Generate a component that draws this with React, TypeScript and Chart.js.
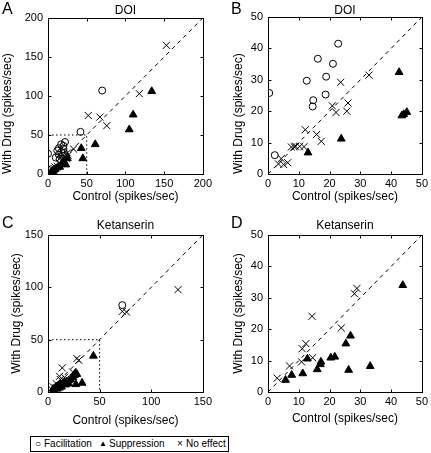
import React, { useEffect, useRef } from "react";
import { Chart, registerables } from "chart.js";

Chart.register(...registerables);

type Pt = [number, number];

// ---------- Panel A: DOI (0-200) ----------
const A_FACILITATION: Pt[] = [
  [70, 107], [42, 54], [0, 26], [22, 41], [17, 38], [20, 36], [14, 33], [20, 32],
  [12, 30], [17, 28], [21, 27], [14, 25], [19, 23], [10, 21], [15, 19], [4, 6], [7, 4],
];
const A_SUPPRESSION: Pt[] = [
  [134, 106], [110, 76], [105, 57], [61, 38], [43, 33], [45, 20], [23, 12], [18, 13],
  [15, 9], [12, 8], [9, 6], [7, 4], [5, 3], [3, 1], [20, 16], [25, 20],
];
const A_NO_EFFECT: Pt[] = [
  [153, 165], [118, 103], [52, 75], [67, 73], [76, 62], [33, 32], [26, 24], [24, 20],
  [22, 22], [20, 18], [18, 16], [15, 14], [12, 10], [9, 9], [6, 5], [3, 3], [25, 27],
];
const A_TICKS = [0, 50, 100, 150, 200];

// ---------- Panel B: DOI (0-50) ----------
const B_FACILITATION: Pt[] = [
  [22.8, 41.5], [16.2, 36.7], [21.1, 35.1], [12.6, 29.7], [18.9, 31.0], [18.7, 25.3],
  [14.7, 23.5], [14.5, 21.5], [0.4, 25.8], [2.2, 6.0],
];
const B_SUPPRESSION: Pt[] = [
  [42.6, 32.4], [45.1, 19.7], [44.1, 19.0], [43.5, 18.6], [23.8, 11.2], [13.0, 6.8],
];
const B_NO_EFFECT: Pt[] = [
  [32.8, 31.5], [23.6, 29.2], [20.9, 21.7], [22.1, 19.6], [26.0, 22.6], [25.6, 20.0],
  [12.1, 14.1], [15.8, 12.6], [17.3, 10.4], [8.5, 8.7], [7.6, 8.6], [9.0, 8.8],
  [10.3, 8.8], [11.7, 8.7], [4.3, 4.9], [3.4, 3.2], [5.1, 3.0], [6.4, 3.6],
];
const B_TICKS = [0, 10, 20, 30, 40, 50];

// ---------- Panel C: Ketanserin (0-150) ----------
const C_FACILITATION: Pt[] = [[72, 83]];
const C_SUPPRESSION: Pt[] = [
  [44, 34.5], [26.6, 18.2], [25.5, 16], [28, 17], [27, 7.3], [33, 8.6], [5, 3], [7, 4],
  [8, 5], [10, 6], [12, 7], [14, 8], [16, 9], [18, 10], [20, 11], [22, 12], [9, 3],
  [13, 5], [17, 7], [20, 8], [6, 2], [11, 4], [24, 14],
];
const C_NO_EFFECT: Pt[] = [
  [126, 97.8], [72, 77], [76, 76.4], [28, 32], [29.8, 30.3], [13.8, 23], [11.2, 15],
  [11.9, 12], [24, 19], [8, 8], [5, 5], [3, 3], [16, 14],
];
const C_TICKS = [0, 50, 100, 150];

// ---------- Panel D: Ketanserin (0-50) ----------
const D_FACILITATION: Pt[] = [];
const D_SUPPRESSION: Pt[] = [
  [43.8, 34], [26.8, 17.9], [25.3, 15.4], [33.2, 8.2], [26.2, 7.0], [21.7, 11.2],
  [20.4, 10.9], [17.2, 9.6], [17.0, 8.8], [16.0, 7.2], [12.8, 10.6], [11.3, 5.9],
  [7.7, 5.4], [5.7, 3.8],
];
const D_NO_EFFECT: Pt[] = [
  [28.9, 33], [28.1, 31.3], [23.8, 20.4], [14.3, 24.1], [12.3, 15.4], [11.1, 13.8],
  [14.5, 10.9], [10.9, 9.6], [7.0, 8.3], [3.0, 4.4],
];
const D_TICKS = [0, 10, 20, 30, 40, 50];

const GUIDE_LEVEL = 50;
const X_LABEL = "Control (spikes/sec)";
const Y_LABEL = "With Drug (spikes/sec)";
const LEGEND_LABELS = ["Facilitation", "Suppression", "No effect"];

const FONT = "'Liberation Sans', Arial, Helvetica, sans-serif";

interface Spec {
  letter: string;
  title: string;
  ticks: number[];
  fac: Pt[];
  sup: Pt[];
  no: Pt[];
  guide: boolean;
  box: { left: number; top: number; width: number; height: number };
  plot: { l: number; t: number; r: number; b: number };
  letterX: number;
  letterY: number;
  titlePad: { top: number; bottom: number };
  yTitlePad: number;
  yTitleAlign: "start" | "center";
  xTitlePad: number;
}

const SPECS: Spec[] = [
  {
    letter: "A", title: "DOI", ticks: A_TICKS, fac: A_FACILITATION, sup: A_SUPPRESSION, no: A_NO_EFFECT,
    guide: true,
    box: { left: 0, top: 0, width: 215, height: 218 },
    plot: { l: 48, t: 18, r: 204, b: 174 },
    letterX: 2, letterY: 14,
    titlePad: { top: 4.5, bottom: 1.5 },
    yTitlePad: 2, yTitleAlign: "start", xTitlePad: 15,
  },
  {
    letter: "B", title: "DOI", ticks: B_TICKS, fac: B_FACILITATION, sup: B_SUPPRESSION, no: B_NO_EFFECT,
    guide: false,
    box: { left: 215, top: 0, width: 216, height: 218 },
    plot: { l: 53, t: 17, r: 209, b: 174 },
    letterX: 16, letterY: 14,
    titlePad: { top: 4.5, bottom: 0.5 },
    yTitlePad: 18, yTitleAlign: "start", xTitlePad: 15,
  },
  {
    letter: "C", title: "Ketanserin", ticks: C_TICKS, fac: C_FACILITATION, sup: C_SUPPRESSION, no: C_NO_EFFECT,
    guide: true,
    box: { left: 0, top: 212, width: 215, height: 221 },
    plot: { l: 48, t: 23, r: 204, b: 180 },
    letterX: 2, letterY: 16,
    titlePad: { top: 8, bottom: 3 },
    yTitlePad: 11, yTitleAlign: "center", xTitlePad: 6,
  },
  {
    letter: "D", title: "Ketanserin", ticks: D_TICKS, fac: D_FACILITATION, sup: D_SUPPRESSION, no: D_NO_EFFECT,
    guide: false,
    box: { left: 215, top: 212, width: 216, height: 221 },
    plot: { l: 53, t: 23, r: 209, b: 180 },
    letterX: 16, letterY: 16,
    titlePad: { top: 8, bottom: 3 },
    yTitlePad: 18, yTitleAlign: "center", xTitlePad: 8,
  },
];

const toXY = (pts: Pt[]) => pts.map(([x, y]) => ({ x, y }));

function Panel({ spec }: { spec: Spec }) {
  const ref = useRef<HTMLCanvasElement | null>(null);
  useEffect(() => {
    if (!ref.current) return;
    const max = spec.ticks[spec.ticks.length - 1];
    const framePlugin = {
      id: "frame",
      afterDatasetsDraw(chart: any) {
        const { ctx, chartArea: a, scales } = chart;
        ctx.save();
        ctx.strokeStyle = "#000";
        ctx.lineWidth = 1;
        const L = Math.round(a.left) + 0.5, R = Math.round(a.right) + 0.5;
        const T = Math.round(a.top) + 0.5, B = Math.round(a.bottom) + 0.5;
        ctx.strokeRect(L, T, R - L, B - T);
        const tl = 3;
        ctx.beginPath();
        for (const v of spec.ticks) {
          const px = Math.round(scales.x.getPixelForValue(v)) + 0.5;
          ctx.moveTo(px, B); ctx.lineTo(px, B - tl);
          ctx.moveTo(px, T); ctx.lineTo(px, T + tl);
          const py = Math.round(scales.y.getPixelForValue(v)) + 0.5;
          ctx.moveTo(L, py); ctx.lineTo(L + tl, py);
          ctx.moveTo(R, py); ctx.lineTo(R - tl, py);
        }
        ctx.stroke();
        ctx.restore();
      },
      afterDraw(chart: any) {
        const ctx = chart.ctx;
        ctx.save();
        ctx.fillStyle = "#000";
        ctx.font = `16px ${FONT}`;
        ctx.textBaseline = "alphabetic";
        ctx.textAlign = "left";
        ctx.fillText(spec.letter, spec.letterX, spec.letterY);
        ctx.restore();
      },
    };

    const datasets: any[] = [
      {
        label: LEGEND_LABELS[0], data: toXY(spec.fac), pointStyle: "circle", pointRadius: 3.5,
        borderColor: "#000", backgroundColor: "rgba(0,0,0,0)", pointBorderWidth: 1, showLine: false,
      },
      {
        label: LEGEND_LABELS[1], data: toXY(spec.sup), pointStyle: "triangle", pointRadius: 4.5,
        borderColor: "#000", backgroundColor: "#000", pointBorderWidth: 1, showLine: false,
      },
      {
        label: LEGEND_LABELS[2], data: toXY(spec.no), pointStyle: "crossRot", pointRadius: 5,
        borderColor: "#000", backgroundColor: "#000", pointBorderWidth: 1, showLine: false,
      },
      {
        label: "unity", data: [{ x: 0, y: 0 }, { x: max, y: max }], showLine: true,
        borderColor: "#000", borderWidth: 1, borderDash: [4, 4], pointRadius: 0, fill: false,
      },
    ];
    if (spec.guide) {
      datasets.push({
        label: "guide",
        data: [{ x: 0, y: GUIDE_LEVEL }, { x: GUIDE_LEVEL, y: GUIDE_LEVEL }, { x: GUIDE_LEVEL, y: 0 }],
        showLine: true, borderColor: "#000", borderWidth: 1, borderDash: [1.5, 2.5], pointRadius: 0, fill: false,
      });
    }

    const tickFont = { size: 11, family: FONT };
    const titleFont = { size: 12, family: FONT, lineHeight: 1 };
    const chart = new Chart(ref.current, {
      type: "scatter",
      data: { datasets },
      plugins: [framePlugin],
      options: {
        animation: false,
        responsive: false,
        events: [],
        layout: { padding: { left: 0, top: 0, bottom: 0, right: spec.box.width - spec.plot.r } },
        plugins: {
          legend: { display: false },
          tooltip: { enabled: false },
          title: {
            display: true, text: spec.title, fullSize: false, color: "#000",
            font: { size: 12, family: FONT, weight: "normal", lineHeight: 1 },
            padding: spec.titlePad,
          },
        },
        scales: {
          x: {
            type: "linear", min: 0, max,
            afterBuildTicks: (s: any) => { s.ticks = spec.ticks.map((v) => ({ value: v })); },
            afterFit: (s: any) => { s.height = spec.box.height - spec.plot.b; },
            grid: { display: false, drawTicks: false }, border: { display: false },
            ticks: { font: tickFont, color: "#000", padding: 3, maxRotation: 0, autoSkip: false },
            title: {
              display: true, text: X_LABEL, color: "#000", font: titleFont,
              padding: { top: 0, bottom: spec.xTitlePad },
            },
          },
          y: {
            type: "linear", min: 0, max,
            afterBuildTicks: (s: any) => { s.ticks = spec.ticks.map((v) => ({ value: v })); },
            afterFit: (s: any) => { s.width = spec.plot.l; },
            grid: { display: false, drawTicks: false }, border: { display: false },
            ticks: { font: tickFont, color: "#000", padding: 5, autoSkip: false },
            title: {
              display: true, text: Y_LABEL, color: "#000", font: titleFont, align: spec.yTitleAlign,
              padding: { top: spec.yTitlePad, bottom: 0 },
            },
          },
        },
      } as any,
    });
    return () => chart.destroy();
  }, [spec]);

  return (
    <canvas
      ref={ref}
      width={spec.box.width}
      height={spec.box.height}
      style={{ position: "absolute", left: spec.box.left, top: spec.box.top, width: spec.box.width, height: spec.box.height }}
    />
  );
}

function Legend() {
  const base: React.CSSProperties = { position: "absolute", top: 0, lineHeight: "14px", whiteSpace: "nowrap" };
  return (
    <div
      style={{
        position: "absolute", left: 30, top: 436, width: 199, height: 16, boxSizing: "border-box",
        border: "1px solid #000", fontFamily: FONT, fontSize: 10, color: "#000", background: "#fff",
      }}
    >
      <span style={{ ...base, left: 4, fontSize: 10 }}>○</span>
      <span style={{ ...base, left: 13 }}>{LEGEND_LABELS[0]}</span>
      <span style={{ ...base, left: 68, fontSize: 8 }}>▲</span>
      <span style={{ ...base, left: 78 }}>{LEGEND_LABELS[1]}</span>
      <span style={{ ...base, left: 146, fontSize: 10 }}>×</span>
      <span style={{ ...base, left: 155 }}>{LEGEND_LABELS[2]}</span>
    </div>
  );
}

export default function App() {
  return (
    <div style={{ position: "absolute", left: 0, top: 0, width: 431, height: 453, background: "#fff", overflow: "hidden" }}>
      {SPECS.map((s) => (
        <Panel key={s.letter} spec={s} />
      ))}
      <Legend />
    </div>
  );
}
